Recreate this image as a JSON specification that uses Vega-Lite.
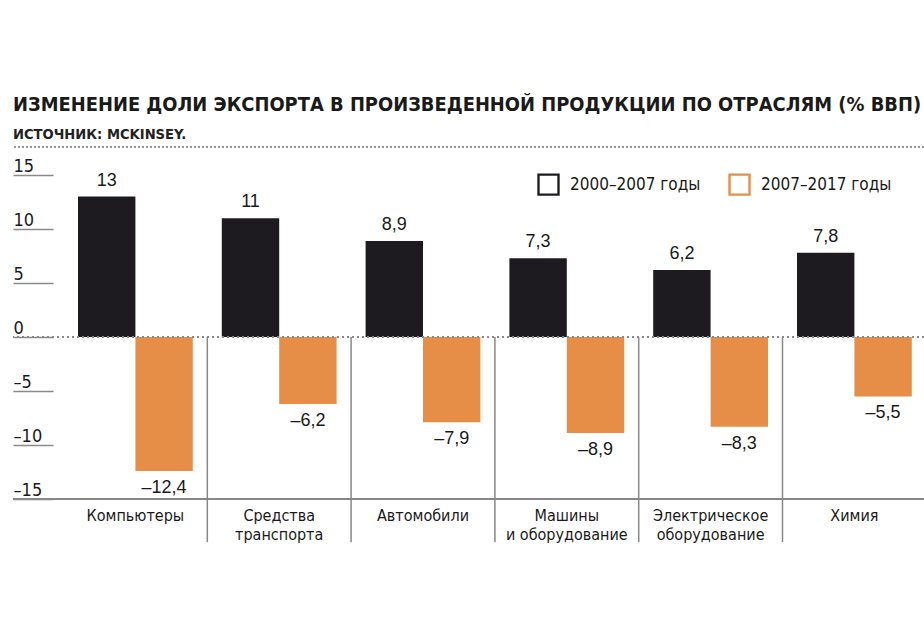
{
  "$schema": "https://vega.github.io/schema/vega-lite/v6.json",
  "autosize": "none",
  "padding": {"left": 13, "top": 175, "right": 0, "bottom": 131},
  "width": 911,
  "height": 324,
  "background": "white",
  "title": {
    "text": "ИЗМЕНЕНИЕ ДОЛИ ЭКСПОРТА В ПРОИЗВЕДЕННОЙ ПРОДУКЦИИ ПО ОТРАСЛЯМ (% ВВП)",
    "subtitle": "ИСТОЧНИК: MCKINSEY.",
    "anchor": "start",
    "frame": "group",
    "font": "DejaVu Sans Condensed, Liberation Sans Narrow, sans-serif",
    "fontSize": 19.9,
    "fontWeight": "bold",
    "color": "#1a1a1a",
    "subtitleFont": "DejaVu Sans Condensed, Liberation Sans Narrow, sans-serif",
    "subtitleFontSize": 14.6,
    "subtitleFontWeight": "bold",
    "subtitleColor": "#222222",
    "subtitlePadding": 12,
    "offset": 5
  },
  "data": {
    "values": [
      {"cat": "Компьютеры", "period": "2000–2007 годы", "value": 13},
      {"cat": "Компьютеры", "period": "2007–2017 годы", "value": -12.4},
      {"cat": "Средства транспорта", "period": "2000–2007 годы", "value": 11},
      {"cat": "Средства транспорта", "period": "2007–2017 годы", "value": -6.2},
      {"cat": "Автомобили", "period": "2000–2007 годы", "value": 8.9},
      {"cat": "Автомобили", "period": "2007–2017 годы", "value": -7.9},
      {"cat": "Машины и оборудование", "period": "2000–2007 годы", "value": 7.3},
      {"cat": "Машины и оборудование", "period": "2007–2017 годы", "value": -8.9},
      {"cat": "Электрическое оборудование", "period": "2000–2007 годы", "value": 6.2},
      {"cat": "Электрическое оборудование", "period": "2007–2017 годы", "value": -8.3},
      {"cat": "Химия", "period": "2000–2007 годы", "value": 7.8},
      {"cat": "Химия", "period": "2007–2017 годы", "value": -5.5}
    ]
  },
  "layer": [
    {
      "mark": {"type": "rule", "stroke": "#999999", "strokeWidth": 1.5, "strokeDash": [2, 2]},
      "encoding": {"y": {"datum": 17.6, "type": "quantitative"}}
    },
    {
      "mark": {"type": "rule", "stroke": "#888888", "strokeWidth": 1.5},
      "encoding": {"y": {"datum": -15, "type": "quantitative"}}
    },
    {
      "mark": {"type": "bar"},
      "encoding": {
        "x": {
          "field": "cat",
          "type": "nominal",
          "sort": ["Компьютеры", "Средства транспорта", "Автомобили", "Машины и оборудование", "Электрическое оборудование", "Химия"],
          "scale": {"range": [50.5, 913.3], "paddingInner": 0, "paddingOuter": 0},
          "axis": {
            "title": null,
            "domain": false,
            "ticks": false,
            "bandPosition": 0.5,
            "labelAngle": 0,
            "labelAlign": "center",
            "labelPadding": 8,
            "labelBaseline": "top",
            "labelLineHeight": 19,
            "labelFont": "DejaVu Sans Condensed, Liberation Sans Narrow, sans-serif",
            "labelFontSize": 16,
            "labelColor": "#1a1a1a",
            "labelExpr": "indexof(datum.label, ' ') > 0 ? [substring(datum.label, 0, indexof(datum.label, ' ')), substring(datum.label, indexof(datum.label, ' ') + 1)] : datum.label"
          }
        },
        "xOffset": {
          "field": "period",
          "type": "nominal",
          "scale": {"paddingInner": 0, "paddingOuter": 0.2526}
        },
        "y": {
          "field": "value",
          "type": "quantitative",
          "scale": {"domain": [-15, 15], "nice": false},
          "axis": {
            "title": null,
            "values": [-15, -10, -5, 0, 5, 10, 15],
            "format": "d",
            "domain": false,
            "grid": false,
            "ticks": true,
            "tickSize": -40,
            "tickColor": "#8a8a8a",
            "tickWidth": 1.5,
            "labelPadding": 40,
            "labelAlign": "left",
            "labelBaseline": "alphabetic",
            "labelOffset": -4,
            "labelFont": "DejaVu Sans Condensed, Liberation Sans Narrow, sans-serif",
            "labelFontSize": 18,
            "labelColor": "#1a1a1a"
          }
        },
        "color": {
          "field": "period",
          "type": "nominal",
          "scale": {"domain": ["2000–2007 годы", "2007–2017 годы"], "range": ["#1d1b20", "#e68e48"]},
          "legend": {
            "title": null,
            "orient": "none",
            "legendX": 524,
            "legendY": -2,
            "direction": "horizontal",
            "padding": 0,
            "symbolType": "M-1,-1L1,-1L1,1L-1,1ZM-0.79,-0.79L-0.79,0.79L0.79,0.79L0.79,-0.79Z",
            "symbolSize": 500,
            "symbolStrokeWidth": 0,
            "columnPadding": 27,
            "labelOffset": 10,
            "labelFont": "DejaVu Sans Condensed, Liberation Sans Narrow, sans-serif",
            "labelFontSize": 17,
            "labelColor": "#1a1a1a",
            "labelLimit": 300
          }
        }
      }
    },
    {
      "transform": [{"filter": "datum.period === '2000–2007 годы' && datum.cat !== 'Компьютеры'"}],
      "mark": {"type": "rule", "stroke": "#888888", "strokeWidth": 1.5},
      "encoding": {
        "x": {"field": "cat", "type": "nominal", "sort": ["Компьютеры", "Средства транспорта", "Автомобили", "Машины и оборудование", "Электрическое оборудование", "Химия"], "bandPosition": 0},
        "y": {"datum": 0, "type": "quantitative"},
        "y2": {"datum": -19}
      }
    },
    {
      "mark": {"type": "rule", "stroke": "#888888", "strokeWidth": 1.5, "strokeDash": [2, 3]},
      "encoding": {"y": {"datum": 0, "type": "quantitative"}}
    },
    {
      "transform": [{"filter": "datum.value > 0"}],
      "mark": {"type": "text", "baseline": "alphabetic", "dy": -11, "font": "Liberation Sans, Arial, sans-serif", "fontSize": 18, "color": "#1a1a1a"},
      "encoding": {
        "x": {"field": "cat", "type": "nominal", "sort": ["Компьютеры", "Средства транспорта", "Автомобили", "Машины и оборудование", "Электрическое оборудование", "Химия"]},
        "xOffset": {"field": "period", "type": "nominal", "scale": {"paddingInner": 0, "paddingOuter": 0.2526}},
        "y": {"field": "value", "type": "quantitative"},
        "text": {"field": "value", "type": "quantitative", "format": "~g"}
      }
    },
    {
      "transform": [{"filter": "datum.value < 0"}],
      "mark": {"type": "text", "baseline": "top", "dy": 8, "font": "Liberation Sans, Arial, sans-serif", "fontSize": 18, "color": "#1a1a1a"},
      "encoding": {
        "x": {"field": "cat", "type": "nominal", "sort": ["Компьютеры", "Средства транспорта", "Автомобили", "Машины и оборудование", "Электрическое оборудование", "Химия"]},
        "xOffset": {"field": "period", "type": "nominal", "scale": {"paddingInner": 0, "paddingOuter": 0.2526}},
        "y": {"field": "value", "type": "quantitative"},
        "text": {"field": "value", "type": "quantitative", "format": "~g"}
      }
    }
  ],
  "config": {
    "view": {"stroke": null},
    "locale": {
      "number": {"decimal": ",", "thousands": " ", "grouping": [3], "currency": ["", ""], "minus": "–"}
    }
  }
}
